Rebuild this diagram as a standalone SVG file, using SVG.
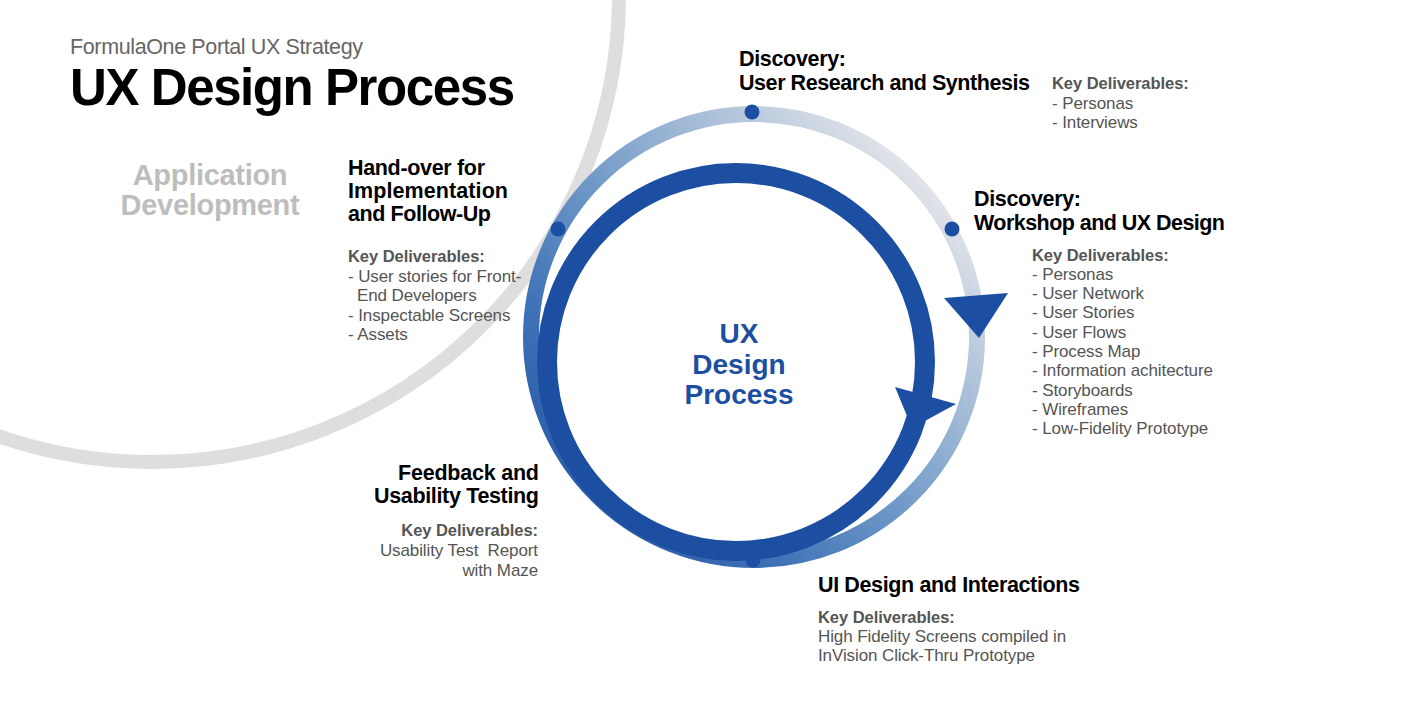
<svg xmlns="http://www.w3.org/2000/svg" width="1419" height="720" viewBox="0 0 1419 720">
  <defs>
    <style>
      .t { font-family: "Liberation Sans", Arial, sans-serif; }
      .sub { font-size: 21.5px; fill: #666; }
      .title { font-size: 51px; font-weight: bold; fill: #000; }
      .app { font-size: 29px; font-weight: bold; fill: #bdbdbd; letter-spacing: -0.3px; }
      .h { font-size: 21.5px; font-weight: bold; fill: #000; }
      .kd { font-size: 16.5px; font-weight: bold; fill: #555; letter-spacing: -0.05px; }
      .it { font-size: 17px; fill: #555; letter-spacing: -0.1px; }
      .center { font-size: 28px; font-weight: bold; fill: #1c4fa1; text-anchor: middle; }
      .r { text-anchor: end; }
      .dot { fill: #1c4fa1; }
      .head { fill: #1c4fa1; }
    </style>
    <linearGradient id="ringGrad" gradientUnits="userSpaceOnUse" x1="930" y1="170" x2="560" y2="520">
      <stop offset="0" stop-color="#e8e8ea"/>
      <stop offset="0.2" stop-color="#b5c7dc"/>
      <stop offset="0.5" stop-color="#7099c8"/>
      <stop offset="0.75" stop-color="#3f72b6"/>
      <stop offset="1" stop-color="#2557a5"/>
    </linearGradient>
  </defs>

  <rect width="1419" height="720" fill="#ffffff"/>

  <!-- large background arc (application development) -->
  <circle cx="152" cy="-5" r="467" fill="none" stroke="#dedede" stroke-width="14"/>

  <!-- title -->
  <g id="title" class="t">
    <text class="sub" x="70" y="54" textLength="293" lengthAdjust="spacing">FormulaOne Portal UX Strategy</text>
    <text class="title" x="70" y="105" textLength="445" lengthAdjust="spacing">UX Design Process</text>
  </g>

  <g id="app-dev" class="t">
    <text class="app" x="210" y="185" text-anchor="middle">Application</text>
    <text class="app" x="210" y="215" text-anchor="middle">Development</text>
  </g>

  <!-- process cycle: outer stage ring, stage markers, inner loop -->
  <g id="connectors">
    <circle cx="754" cy="337" r="223" fill="none" stroke="url(#ringGrad)" stroke-width="16"/>
    <polygon class="head" points="944,298 1008,293 979,338"/>
    <circle class="dot" cx="752" cy="112" r="7.5"/>
    <circle class="dot" cx="558" cy="229" r="7.5"/>
    <circle class="dot" cx="952" cy="229" r="7.5"/>
    <circle class="dot" cx="753" cy="560" r="7.5"/>
    <circle cx="736" cy="362" r="189" fill="none" stroke="#1c4fa1" stroke-width="20"/>
    <polygon class="head" points="895,387 956,404 912,428"/>
  </g>

  <g id="center-label" class="t">
    <text class="center" x="739" y="343">UX</text>
    <text class="center" x="739" y="374">Design</text>
    <text class="center" x="739" y="404">Process</text>
  </g>

  <g id="discovery-research" class="t">
    <text class="h" x="739" y="66" textLength="107" lengthAdjust="spacing">Discovery:</text>
    <text class="h" x="739" y="90" textLength="291" lengthAdjust="spacing">User Research and Synthesis</text>
    <text class="kd" x="1052" y="89">Key Deliverables:</text>
    <text class="it" x="1052" y="108.5">- Personas</text>
    <text class="it" x="1052" y="127.5">- Interviews</text>
  </g>

  <g id="discovery-workshop" class="t">
    <text class="h" x="974" y="206" textLength="107" lengthAdjust="spacing">Discovery:</text>
    <text class="h" x="974" y="230" textLength="251" lengthAdjust="spacing">Workshop and UX Design</text>
    <text class="kd" x="1032" y="260.5">Key Deliverables:</text>
    <text class="it" x="1032" y="279.8">- Personas</text>
    <text class="it" x="1032" y="299.1">- User Network</text>
    <text class="it" x="1032" y="318.4">- User Stories</text>
    <text class="it" x="1032" y="337.7">- User Flows</text>
    <text class="it" x="1032" y="357">- Process Map</text>
    <text class="it" x="1032" y="376.3">- Information achitecture</text>
    <text class="it" x="1032" y="395.6">- Storyboards</text>
    <text class="it" x="1032" y="414.9">- Wireframes</text>
    <text class="it" x="1032" y="434.2">- Low-Fidelity Prototype</text>
  </g>

  <g id="ui-design" class="t">
    <text class="h" x="818" y="591.5" textLength="262" lengthAdjust="spacing">UI Design and Interactions</text>
    <text class="kd" x="818" y="622.5">Key Deliverables:</text>
    <text class="it" x="818" y="641.5">High Fidelity Screens compiled in</text>
    <text class="it" x="818" y="661">InVision Click-Thru Prototype</text>
  </g>

  <g id="feedback" class="t">
    <text class="h r" x="539" y="479.5" textLength="141" lengthAdjust="spacing">Feedback and</text>
    <text class="h r" x="539" y="503" textLength="165" lengthAdjust="spacing">Usability Testing</text>
    <text class="kd r" x="538" y="536">Key Deliverables:</text>
    <text class="it r" x="538" y="556" xml:space="preserve">Usability Test  Report</text>
    <text class="it r" x="538" y="575.5">with Maze</text>
  </g>

  <g id="handover" class="t">
    <text class="h" x="348" y="175" textLength="137" lengthAdjust="spacing">Hand-over for</text>
    <text class="h" x="348" y="198" textLength="160" lengthAdjust="spacing">Implementation</text>
    <text class="h" x="348" y="221" textLength="143" lengthAdjust="spacing">and Follow-Up</text>
    <text class="kd" x="348" y="262">Key Deliverables:</text>
    <text class="it" x="348" y="281.5">- User stories for Front-</text>
    <text class="it" x="357" y="301">End Developers</text>
    <text class="it" x="348" y="320.5">- Inspectable Screens</text>
    <text class="it" x="348" y="340">- Assets</text>
  </g>
</svg>
